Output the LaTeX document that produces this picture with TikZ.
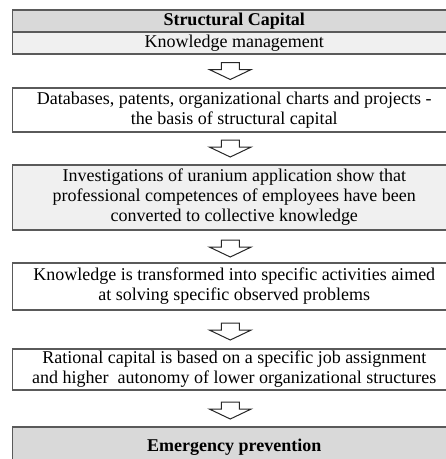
\documentclass[tikz,border=0pt]{standalone}
\usepackage{fontspec}
\setmainfont{Liberation Serif}
\usepackage{xcolor}
\usetikzlibrary{positioning, calc}
\definecolor{headgray}{RGB}{217, 217, 217}
\definecolor{palegray}{RGB}{240, 240, 240}
\definecolor{edgegray}{RGB}{90, 90, 90}

\begin{document}
\begin{tikzpicture}[
    x=1pt, y=-1pt,
    box/.style={rectangle, draw=edgegray, line width=1.1pt, minimum width=443.5pt, inner sep=0pt, align=center, font=\fontsize{18}{20}\selectfont},
    hollowarrow/.style={draw=black!85, line width=1pt, fill=white, line join=miter}
]
    \useasboundingbox (0,0) rectangle (446,459);

    % Boxes
    \node (hdr) [box, fill=headgray, minimum height=22pt, font=\fontsize{18}{20}\selectfont\bfseries] at (234.25, 21) {Structural Capital};
    \node (km) [box, fill=palegray, minimum height=22pt] at (234.25, 43) {Knowledge management};
    \node (db) [box, fill=white, minimum height=44pt] at (234.25, 110) {Databases, patents, organizational charts and projects -\\the basis of structural capital};
    \node (inv) [box, fill=palegray, minimum height=65pt] at (234.25, 197.5) {Investigations of uranium application show that\\professional competences of employees have been\\converted to collective knowledge};
    \node (act) [box, fill=white, minimum height=47pt] at (234.25, 286.5) {Knowledge is transformed into specific activities aimed\\at solving specific observed problems};
    \node (rat) [box, fill=white, minimum height=41pt] at (234.25, 369.5) {Rational capital is based on a specific job assignment\\and higher~ autonomy of lower organizational structures};
    \node (emg) [box, fill=headgray, minimum height=40pt, font=\fontsize{18}{20}\selectfont\bfseries] at (234.25, 447) {Emergency prevention};

    % Block arrows between boxes
    \foreach \from/\to/\dy in {km/db/0, db/inv/0, inv/act/2, act/rat/2, rat/emg/2} {
        \coordinate (mid) at ($(\from.south)!0.5!(\to.north)$);
        \draw [hollowarrow, shift={(mid)}] (-13,\dy-8.5) -- (5,\dy-8.5) -- (5,\dy-1.5) -- (17,\dy-1.5) -- (-4,\dy+8.5) -- (-25,\dy-1.5) -- (-13,\dy-1.5) -- cycle;
    }

\end{tikzpicture}
\end{document}
